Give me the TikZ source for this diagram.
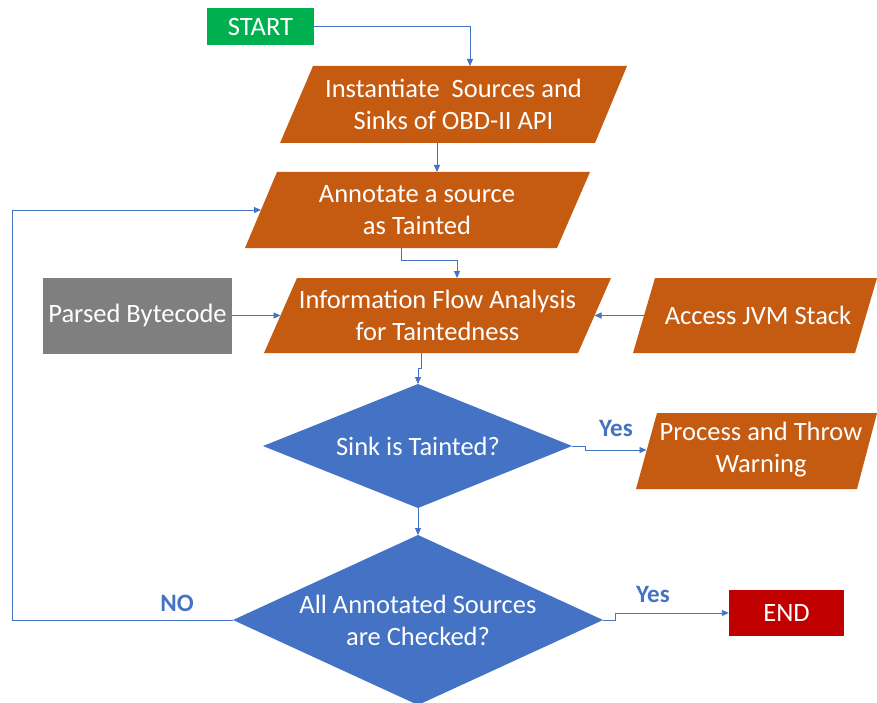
\documentclass[tikz,border=0pt]{standalone}
\usepackage{fontspec}
\setmainfont{Carlito}
\usetikzlibrary{arrows.meta}
\definecolor{orng}{HTML}{C55A11}
\definecolor{blu}{HTML}{4472C4}
\definecolor{grn}{HTML}{00B050}
\definecolor{gry}{HTML}{7F7F7F}
\definecolor{rd}{HTML}{C00000}
\begin{document}
\begin{tikzpicture}[x=1pt,y=-1pt,
  txt/.style={text=white,align=center,inner sep=0pt,font=\fontsize{26.5}{32}\selectfont},
  boxnode/.style={txt,draw=none,minimum height=37pt},
  lbl/.style={text=blu,inner sep=0pt,font=\fontsize{25}{28}\selectfont\bfseries},
  conn/.style={draw=blu,line width=0.9pt,-{Triangle[length=7pt,width=6pt]}},
  para/.style={fill=orng},
  dia/.style={fill=blu}]
\useasboundingbox (0,0) rectangle (877,703);

% START
\node[boxnode,fill=grn,minimum width=107pt,minimum height=37pt] (start) at (260.5,26.5) {START};

% Instantiate
\fill[para] (313,66) -- (627,66) -- (595,143) -- (280,143) -- cycle;
\node[txt] (ins) at (453.5,104) {Instantiate~ Sources and\\Sinks of OBD-II API};
\coordinate (ins-n) at (470,66);
\coordinate (ins-s) at (437,143);

% Annotate
\fill[para] (277,172) -- (590,172) -- (557,248) -- (245,248) -- cycle;
\node[txt] (ann) at (417,210) {Annotate a source\\as Tainted};
\coordinate (ann-n) at (437,172);
\coordinate (ann-s) at (401,248);
\coordinate (ann-w) at (261,210);

% Information flow
\fill[para] (297,278) -- (611,278) -- (578,353) -- (264,353) -- cycle;
\node[txt] (info) at (437.5,315.5) {Information Flow Analysis\\for Taintedness};
\coordinate (info-n) at (457,278);
\coordinate (info-s) at (421,353);
\coordinate (info-w) at (280.5,315.5);
\coordinate (info-e) at (594.5,315.5);

% Parsed Bytecode
\node[boxnode,fill=gry,minimum width=189pt,minimum height=76pt] (parsed) at (137.5,315.5) {Parsed Bytecode};

% Access JVM Stack
\fill[para] (655,278) -- (877,278) -- (855,353) -- (633,353) -- cycle;
\node[txt] (jvm) at (758,315.5) {Access JVM Stack};
\coordinate (jvm-w) at (644,315.5);

% Sink is Tainted
\fill[dia] (418,384) -- (572,446) -- (418,508) -- (263,446) -- cycle;
\node[txt] (sink) at (418,446) {Sink is Tainted?};
\coordinate (sink-n) at (418,384);
\coordinate (sink-s) at (418,508);
\coordinate (sink-e) at (572,446);

% Process and Throw Warning
\fill[para] (657,413) -- (877,413) -- (857,489) -- (636,489) -- cycle;
\node[txt] (proc) at (761,450) {Process and Throw\\Warning};
\coordinate (proc-w) at (646.5,450);

% All Annotated Sources
\fill[dia] (418,535) -- (603,620) -- (418,705) -- (233,620) -- cycle;
\node[txt] (all) at (418,620) {All Annotated Sources\\are Checked?};
\coordinate (all-n) at (418,535);
\coordinate (all-e) at (603,620);
\coordinate (all-w) at (233,620);

% END
\node[boxnode,fill=rd,minimum width=115pt,minimum height=46pt] (endn) at (786.5,613) {END};

% connectors
\draw[conn] (start.east) -| (ins-n);
\draw[conn] (ins-s) -- (ann-n);
\draw[conn] (ann-s) -- ++(0,12) -| (info-n);
\draw[conn] (parsed.east) -- (info-w);
\draw[conn] (jvm-w) -- (info-e);
\draw[conn] (info-s) -- ++(0,15) -| (sink-n);
\draw[conn] (sink-e) -- ++(13,0) |- (proc-w);
\draw[conn] (sink-s) -- (all-n);
\draw[conn] (all-e) -- ++(12,0) |- (endn.west);
\draw[conn] (all-w) -- (12,620) |- (ann-w);

% labels
\node[lbl] (yes1) at (616,428) {Yes};
\node[lbl] (yes2) at (653,594) {Yes};
\node[lbl] (no) at (177,603) {NO};
\end{tikzpicture}
\end{document}
